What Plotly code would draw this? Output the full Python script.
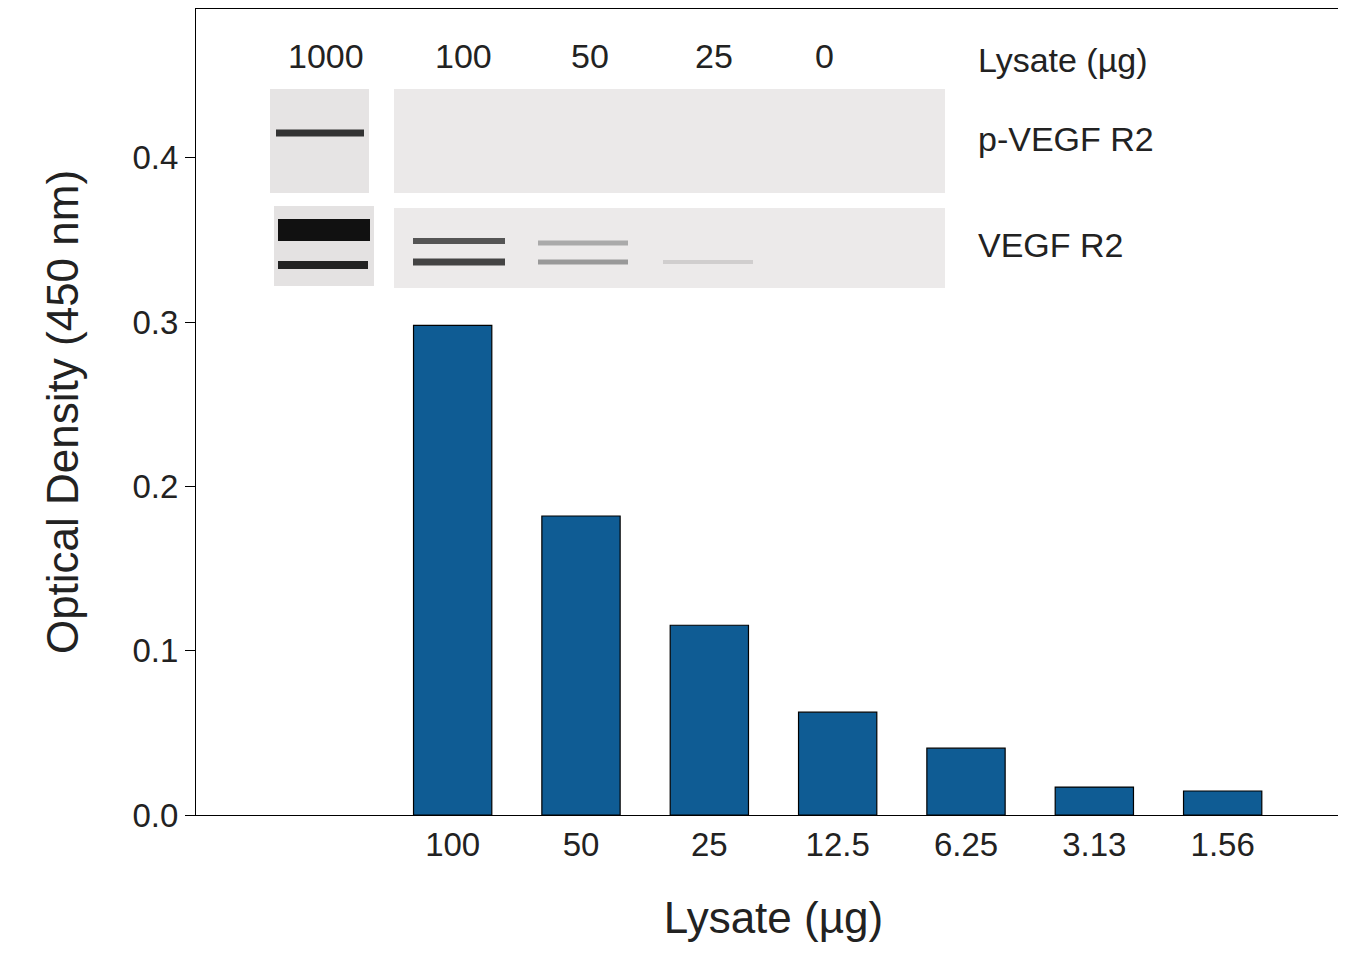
import plotly.graph_objects as go

# Data
lysate_labels = ["100", "50", "25", "12.5", "6.25", "3.13", "1.56"]
optical_density = [0.298, 0.182, 0.1155, 0.0626, 0.0407, 0.017, 0.0146]
blot_lanes = ["1000", "100", "50", "25", "0"]
blot_rows = ["p-VEGF R2", "VEGF R2"]

FONT = "Liberation Sans, Arial, sans-serif"
L, T, W, H = 188, 1, 1155, 806  # plot area in pixels

def px(x):
    return (x - L) / W

def py(y):
    return (T + H - y) / H

fig = go.Figure(go.Bar(
    x=list(range(len(lysate_labels))),
    y=optical_density,
    width=0.61,
    marker=dict(color="#0f5c94", line=dict(color="black", width=1.2)),
))

shapes = []
# blot panels
for x0, y0, x1, y1, c in [(262, 81, 361, 185, "#e6e4e4"), (386, 81, 937, 185, "#ebe9e9"),
                          (266, 198, 366, 278, "#e4e2e2"), (386, 200, 937, 280, "#eceaea")]:
    shapes.append(dict(type="rect", xref="paper", yref="paper", x0=px(x0), x1=px(x1),
                       y0=py(y1), y1=py(y0), fillcolor=c, line=dict(width=0), layer="above"))
# bands
for x0, x1, yc, h, c in [(268, 356, 125, 7, "#333"), (270, 362, 222, 22, "#111"),
                         (270, 360, 257, 8, "#222"), (405, 497, 233, 6, "#555"),
                         (405, 497, 254, 7, "#444"), (530, 620, 235, 5, "#aaa"),
                         (530, 620, 254, 5, "#999"), (655, 745, 254, 4, "#d0cece")]:
    shapes.append(dict(type="rect", xref="paper", yref="paper", x0=px(x0), x1=px(x1),
                       y0=py(yc + h / 2), y1=py(yc - h / 2), fillcolor=c,
                       line=dict(width=0), layer="above"))

annotations = []
for lab, x in zip(blot_lanes, [318, 455, 582, 706, 816]):
    annotations.append(dict(text=lab, x=px(x), y=py(48), xref="paper", yref="paper",
                            xanchor="center", yanchor="middle",
                            showarrow=False, font=dict(size=34, color="#222", family=FONT)))
for lab, x, y in [("Lysate (µg)", 968, 52), (blot_rows[0], 968, 131), (blot_rows[1], 968, 237)]:
    annotations.append(dict(text=lab, x=px(x), y=py(y), xref="paper", yref="paper",
                            xanchor="left", yanchor="middle",
                            showarrow=False, font=dict(size=34, color="#222", family=FONT)))

fig.update_layout(
    width=1346, height=960,
    margin=dict(l=L, r=1346 - L - W, t=T, b=960 - T - H, autoexpand=False),
    plot_bgcolor="white", paper_bgcolor="white",
    showlegend=False,
    shapes=shapes, annotations=annotations,
    font=dict(family=FONT, color="#222"),
    xaxis=dict(range=[-2, 7], tickvals=list(range(len(lysate_labels))), ticktext=lysate_labels,
               tickfont=dict(size=33), ticks="", showline=True, linecolor="black", mirror=True,
               showgrid=False, zeroline=False, automargin=False,
               title=dict(text="Lysate (µg)", font=dict(size=44), standoff=40)),
    yaxis=dict(range=[0, 0.4906], tickvals=[0, 0.1, 0.2, 0.3, 0.4], tickformat=".1f",
               tickfont=dict(size=33), ticks="outside", ticklen=10, tickcolor="black",
               showline=True, linecolor="black", mirror=True, showgrid=False, zeroline=False,
               automargin=False,
               title=dict(text="Optical Density (450 nm)", font=dict(size=44), standoff=40)),
)

fig.write_html("out.html")
